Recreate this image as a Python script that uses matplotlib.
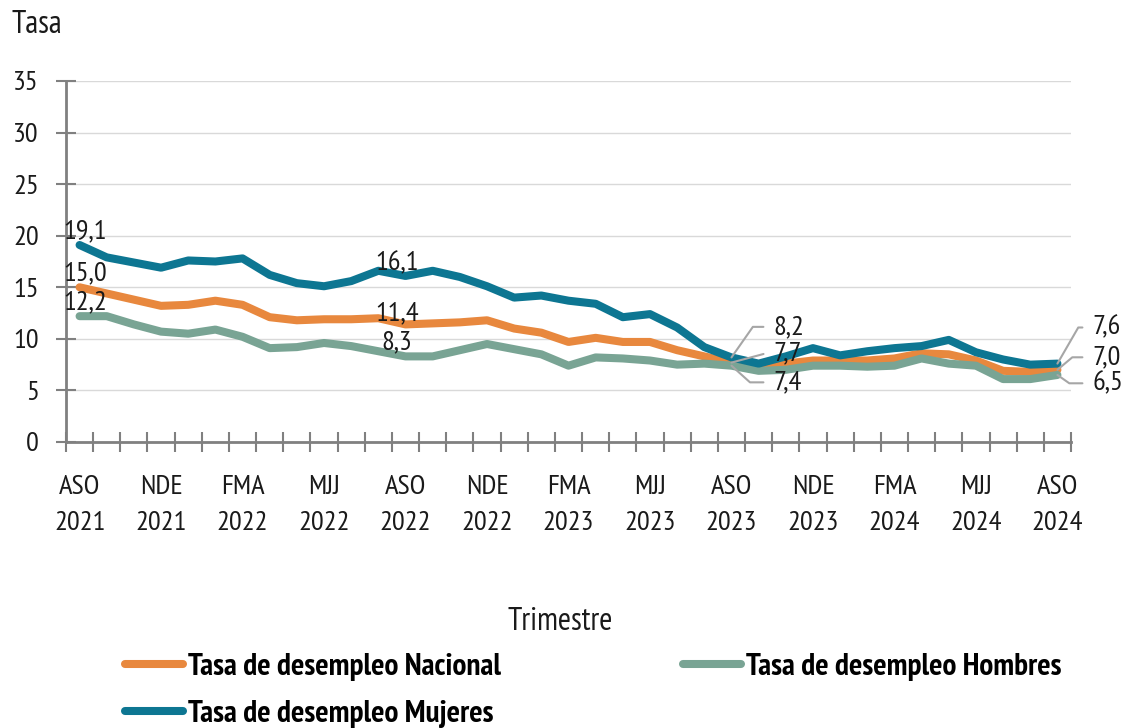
import matplotlib
matplotlib.use("Agg")
import matplotlib.pyplot as plt
from matplotlib.ticker import FixedLocator, MultipleLocator
import numpy as np

plt.rcParams['font.family'] = ['PT Sans Narrow', 'Fira Sans Condensed', 'Roboto Condensed',
                               'Archivo Narrow', 'DejaVu Sans']

# rolling quarters ASO 2021 .. ASO 2024 (37 points)
tick_labels = ['ASO\n2021', 'NDE\n2021', 'FMA\n2022', 'MJJ\n2022', 'ASO\n2022',
               'NDE\n2022', 'FMA\n2023', 'MJJ\n2023', 'ASO\n2023', 'NDE\n2023',
               'FMA\n2024', 'MJJ\n2024', 'ASO\n2024']

nacional = [15.0, 14.4, 13.8, 13.2, 13.3, 13.7, 13.3, 12.1, 11.8, 11.9, 11.9, 12.0,
            11.4, 11.5, 11.6, 11.8, 11.0, 10.6, 9.7, 10.1, 9.7, 9.7, 8.9, 8.3,
            7.7, 7.2, 7.6, 7.9, 7.9, 7.9, 8.1, 8.6, 8.5, 7.9, 6.9, 6.8, 7.0]
hombres = [12.2, 12.2, 11.4, 10.7, 10.5, 10.9, 10.2, 9.1, 9.2, 9.6, 9.3, 8.8,
           8.3, 8.3, 8.9, 9.5, 9.0, 8.5, 7.4, 8.2, 8.1, 7.9, 7.5, 7.6,
           7.4, 6.9, 7.0, 7.4, 7.4, 7.3, 7.4, 8.1, 7.6, 7.4, 6.1, 6.1, 6.5]
mujeres = [19.1, 17.9, 17.4, 16.9, 17.6, 17.5, 17.8, 16.2, 15.4, 15.1, 15.6, 16.6,
           16.1, 16.6, 16.0, 15.1, 14.0, 14.2, 13.7, 13.4, 12.1, 12.4, 11.1, 9.2,
           8.2, 7.6, 8.3, 9.1, 8.4, 8.8, 9.1, 9.3, 9.9, 8.7, 8.0, 7.5, 7.6]

c_nac = '#E8883E'
c_hom = '#79A494'
c_muj = '#0D7692'
grey = '#808080'
txt = '#1A1A1A'
fs = 20.5       # ticks and data labels
fs_title = 23   # axis titles
fs_leg = 22.5

x = np.arange(len(nacional))

fig = plt.figure(figsize=(11.3, 7.28), dpi=100)
ax = fig.add_axes([66 / 1130, 1 - 442 / 728, (1071 - 66) / 1130, (442 - 81) / 728])

ax.plot(x, nacional, color=c_nac, lw=5.8, solid_capstyle='round', zorder=3,
        label='Tasa de desempleo Nacional')
ax.plot(x, hombres, color=c_hom, lw=5.8, solid_capstyle='round', zorder=3,
        label='Tasa de desempleo Hombres')
ax.plot(x, mujeres, color=c_muj, lw=5.8, solid_capstyle='round', zorder=4,
        label='Tasa de desempleo Mujeres')

ax.set_xlim(-0.5, len(x) - 0.5)
ax.set_ylim(0, 35)

ax.set_xticks(np.arange(0, len(x), 3))
ax.set_xticklabels(tick_labels, fontsize=fs, color=txt, linespacing=1.6)
ax.xaxis.set_minor_locator(FixedLocator(np.arange(-0.5, len(x), 1)))
ax.tick_params(axis='x', which='major', length=0, pad=24)
ax.tick_params(axis='x', which='minor', direction='inout', length=15, width=1.5, color=grey)

ax.yaxis.set_major_locator(MultipleLocator(5))
ax.tick_params(axis='y', direction='inout', length=15, width=1.5, color=grey,
               labelsize=fs, labelcolor=txt, pad=12)

ax.grid(axis='y', color='#D9D9D9', lw=1)
ax.set_axisbelow(True)
for s in ['top', 'right']:
    ax.spines[s].set_visible(False)
for s in ['left', 'bottom']:
    ax.spines[s].set_color(grey)
    ax.spines[s].set_linewidth(2)
    ax.spines[s].set_zorder(5)

# plain labels above the first point and ASO 2022
for i, dx, dy_list in [(0, 4, (10, 10, 10)), (12, -6, (9, 8, 10))]:
    for series, dy in zip([mujeres, nacional, hombres], dy_list):
        ax.annotate(f'{series[i]:.1f}'.replace('.', ','), (x[i], series[i]),
                    xytext=(dx, dy), textcoords='offset points', ha='center',
                    va='center', fontsize=fs, color=txt, zorder=6)

# labels with leader lines at ASO 2023 and ASO 2024
leaders = [
    (24, mujeres, (30, 22), 55),
    (24, nacional, (30, 7), 15),
    (24, hombres, (30, -12), -42),
    (36, mujeres, (25, 26), 60),
    (36, nacional, (25, 9), 40),
    (36, hombres, (25, -6), -35),
]
for i, series, offs, ang in leaders:
    ax.annotate(f'{series[i]:.1f}'.replace('.', ','), (x[i], series[i]),
                xytext=offs, textcoords='offset points', ha='left', va='center',
                fontsize=fs, color=txt, zorder=6, annotation_clip=False,
                arrowprops=dict(arrowstyle='-', color='#A6A6A6', lw=1.5,
                                shrinkA=5, shrinkB=0,
                                connectionstyle=f'angle,angleA=0,angleB={ang},rad=0'))

fig.text(12 / 1130, 1 - 25 / 728, 'Tasa', fontsize=fs_title, color=txt,
         va='center', ha='left')
fig.text(560 / 1130, 1 - 622 / 728, 'Trimestre', fontsize=fs_title, color=txt,
         va='center', ha='center')

handles, labels = ax.get_legend_handles_labels()
leg_kw = dict(frameon=False, handlelength=1.85, handletextpad=0.15,
              labelspacing=0.6, borderpad=0, borderaxespad=0,
              prop={'weight': 'bold', 'size': fs_leg})
leg1 = fig.legend([handles[0], handles[2]], [labels[0], labels[2]], loc='upper left',
                  bbox_to_anchor=(125 / 1130, 1 - 653 / 728), **leg_kw)
leg2 = fig.legend([handles[1]], [labels[1]], loc='upper left',
                  bbox_to_anchor=(683 / 1130, 1 - 653 / 728), **leg_kw)
for leg in (leg1, leg2):
    for t in leg.get_texts():
        t.set_color('#000000')

fig.savefig('out.png', dpi=100)
